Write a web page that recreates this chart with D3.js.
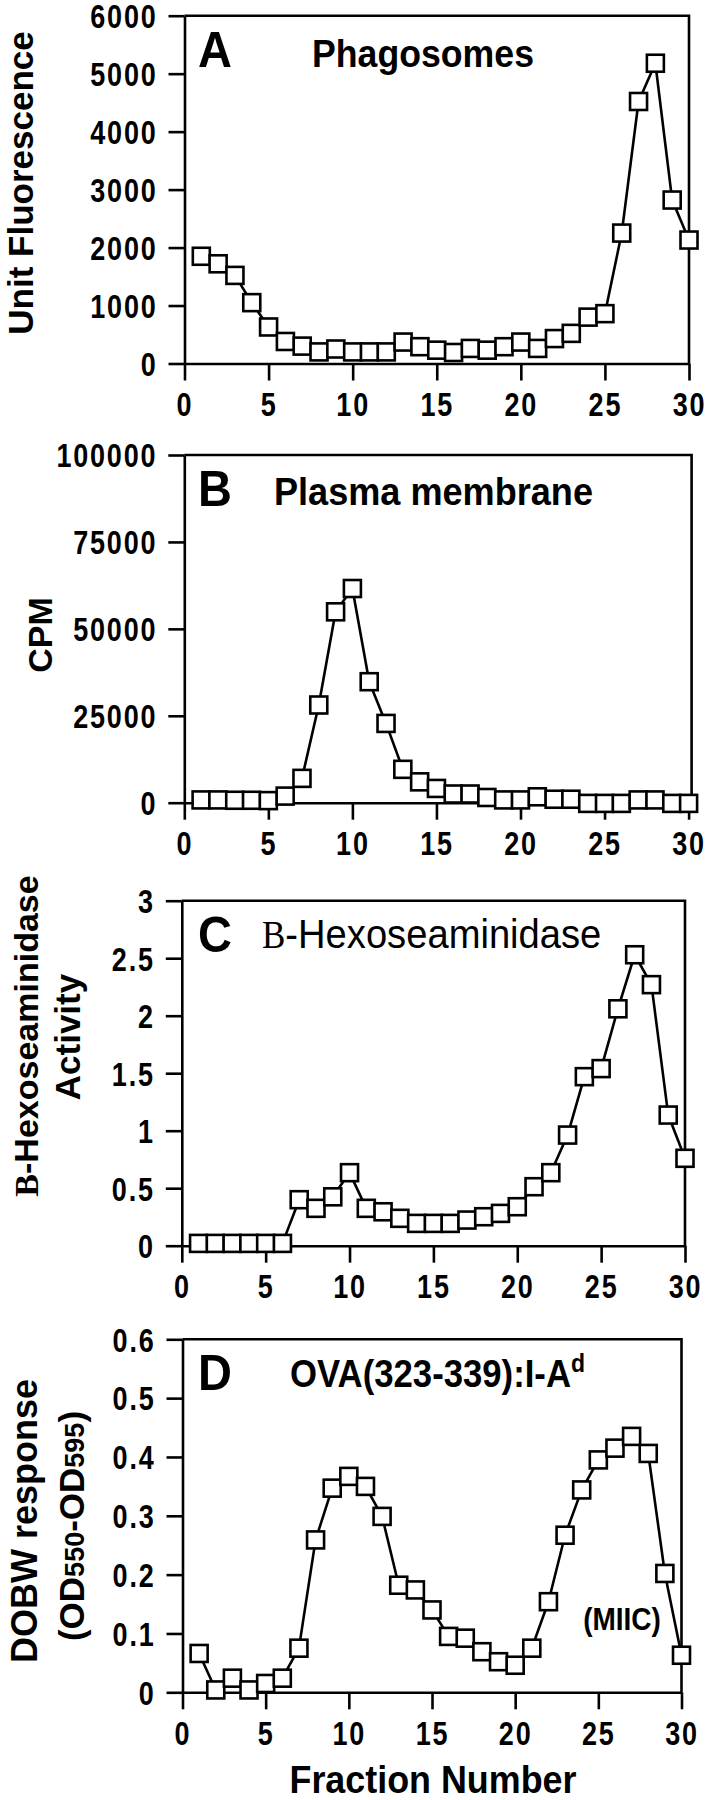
<!DOCTYPE html>
<html>
<head>
<meta charset="utf-8">
<script src="https://cdn.jsdelivr.net/npm/d3@7"></script>
<style>
  html, body { margin: 0; padding: 0; background: #fff; }
  svg { display: block; }
  text { fill: #000; }
</style>
</head>
<body>
<svg id="chart" width="711" height="1800"></svg>
<script>
// ---------- data ----------
const fractions = [1,2,3,4,5,6,7,8,9,10,11,12,13,14,15,16,17,18,19,20,21,22,23,24,25,26,27,28,29,30];

const phagosomes = [1850,1720,1520,1050,630,380,300,200,250,200,200,200,370,290,230,190,260,230,290,370,260,430,520,800,860,2250,4520,5180,2820,2130];

const plasmaMembrane = [800,800,700,700,600,1900,7000,28100,54900,61600,34800,22800,9600,6000,4100,2500,2500,1500,800,800,1700,1000,1000,-200,-200,-200,800,800,-200,-200];

const hexosaminidase = [0.02,0.02,0.02,0.02,0.02,0.02,0.40,0.325,0.425,0.635,0.325,0.295,0.238,0.194,0.194,0.194,0.223,0.252,0.281,0.339,0.513,0.635,0.962,1.47,1.54,2.06,2.53,2.27,1.136,0.76];

const ovaResponse = [0.066,0.004,0.024,0.004,0.015,0.024,0.075,0.259,0.347,0.367,0.35,0.299,0.182,0.174,0.14,0.095,0.092,0.069,0.052,0.046,0.075,0.154,0.267,0.344,0.395,0.415,0.435,0.406,0.202,0.063];

const xTicks = [0,5,10,15,20,25,30];
const yTicksA = [0,1000,2000,3000,4000,5000,6000];
const yTicksB = [0,25000,50000,75000,100000];
const yTicksC = [0,0.5,1,1.5,2,2.5,3];
const yTickLabelsC = ["0","0.5","1","1.5","2","2.5","3"];
const yTicksD = [0,0.1,0.2,0.3,0.4,0.5,0.6];
const yTickLabelsD = ["0","0.1","0.2","0.3","0.4","0.5","0.6"];

// ---------- layout ----------
const panels = [
  { letter: "A", values: phagosomes, ticks: yTicksA, labels: yTicksA.map(String), yMax: 6000,
    left: 184.5, right: 689, top: 15.7, bottom: 363.5 },
  { letter: "B", values: plasmaMembrane, ticks: yTicksB, labels: yTicksB.map(String), yMax: 100000,
    left: 184.3, right: 688.6, top: 455, bottom: 802.7 },
  { letter: "C", values: hexosaminidase, ticks: yTicksC, labels: yTickLabelsC, yMax: 3,
    left: 181.8, right: 685, top: 900.7, bottom: 1245.7 },
  { letter: "D", values: ovaResponse, ticks: yTicksD, labels: yTickLabelsD, yMax: 0.6,
    left: 182.5, right: 681.5, top: 1339.3, bottom: 1692.3 }
];

const SANS = "'Liberation Sans', Arial, Helvetica, sans-serif";
const SERIF = "'Liberation Serif', 'Times New Roman', serif";
const TICK_SY = 1.22;
const svg = d3.select("#chart");

panels.forEach((p, i) => {
  const x = d3.scaleLinear().domain([0, 30]).range([p.left, p.right]);
  const y = d3.scaleLinear().domain([0, p.yMax]).range([p.bottom, p.top]);
  const g = svg.append("g");

  // frame top & right
  g.append("path")
    .attr("d", `M${p.left},${p.top}H${p.right + (i === 1 ? 3 : 0)}V${p.bottom}`)
    .attr("fill", "none").attr("stroke", "#000").attr("stroke-width", 2.6);

  // y axis
  const yAxis = d3.axisLeft(y).tickValues(p.ticks).tickFormat((d, k) => p.labels[k])
    .tickSize(16).tickSizeOuter(0).tickPadding(11);
  const ya = g.append("g").attr("transform", `translate(${p.left},0)`).call(yAxis);

  // x axis
  const xAxis = d3.axisBottom(x).tickValues(xTicks).tickSize(17).tickSizeOuter(0).tickPadding(7);
  const xa = g.append("g").attr("transform", `translate(0,${p.bottom})`).call(xAxis);

  [ya, xa].forEach(a => {
    a.select(".domain").attr("stroke-width", 2.6);
    a.selectAll(".tick line").attr("stroke-width", 2.6);
    a.selectAll(".tick text")
      .attr("font-family", SANS).attr("font-weight", "bold")
      .attr("font-size", 27).attr("letter-spacing", 1.8)
      .attr("transform", `scale(1,${TICK_SY})`);
  });
  ya.selectAll(".tick text").attr("dy", "0.36em");

  // line
  const line = d3.line().x((d, k) => x(fractions[k])).y(d => y(d));
  g.append("path").datum(p.values).attr("d", line)
    .attr("fill", "none").attr("stroke", "#000").attr("stroke-width", 2.6)
    .attr("stroke-linejoin", "round");

  // markers
  const s = 17;
  g.selectAll("rect.pt").data(p.values).join("rect")
    .attr("class", "pt")
    .attr("x", (d, k) => x(fractions[k]) - s / 2)
    .attr("y", d => y(d) - s / 2)
    .attr("width", s).attr("height", s)
    .attr("fill", "#fff").attr("stroke", "#000").attr("stroke-width", 2.6);

  // panel letter
  g.append("text")
    .attr("transform", `translate(198,${p.top + 51}) scale(1,1.08)`)
    .attr("font-family", SANS).attr("font-weight", "bold").attr("font-size", 47)
    .text(p.letter);
});

// ---------- helper for stretched text ----------
function hText(x, y, size, sy, bold) {
  return svg.append("text")
    .attr("transform", `translate(${x},${y}) scale(1,${sy})`)
    .attr("font-family", SANS).attr("font-weight", bold ? "bold" : "normal")
    .attr("font-size", size);
}

// ---------- titles ----------
hText(312, 67, 35, 1.12, true).attr("textLength", 222).attr("lengthAdjust", "spacingAndGlyphs")
  .text("Phagosomes");
hText(274, 505, 33, 1.15, true).attr("textLength", 319).attr("lengthAdjust", "spacingAndGlyphs")
  .text("Plasma membrane");

const tC = hText(262, 948, 35, 1.14, false);
tC.append("tspan").attr("font-family", SERIF).text("B");
tC.append("tspan").attr("textLength", 316).attr("lengthAdjust", "spacingAndGlyphs")
  .text("-Hexoseaminidase");

const tD = hText(290, 1387, 34, 1.14, true);
tD.append("tspan").attr("textLength", 281).attr("lengthAdjust", "spacingAndGlyphs")
  .text("OVA(323-339):I-A");
tD.append("tspan").attr("font-size", 23).attr("dy", -13).text("d");

hText(622, 1630, 28, 1.12, true).attr("text-anchor", "middle").text("(MIIC)");

// ---------- axis titles ----------
function vText(xb, yc, size) {
  return svg.append("text")
    .attr("transform", `translate(${xb},${yc}) rotate(-90)`)
    .attr("text-anchor", "middle")
    .attr("font-family", SANS).attr("font-weight", "bold").attr("font-size", size);
}
vText(33, 183, 35).text("Unit Fluorescence");
vText(52, 635, 34).text("CPM");
const yc1 = vText(38, 1036, 34);
yc1.append("tspan").attr("font-family", SERIF).text("B");
yc1.append("tspan").text("-Hexoseaminidase");
vText(80, 1037, 35).text("Activity");
vText(37, 1521, 36).text("DOBW response");
const yd2 = vText(84, 1526, 35);
yd2.append("tspan").text("(OD");
yd2.append("tspan").attr("font-size", 27).text("550");
yd2.append("tspan").text("-OD");
yd2.append("tspan").attr("font-size", 27).text("595");
yd2.append("tspan").text(")");

hText(433, 1793, 35, 1.1, true).attr("text-anchor", "middle")
  .attr("textLength", 287).attr("lengthAdjust", "spacingAndGlyphs")
  .text("Fraction Number");
</script>
</body>
</html>
